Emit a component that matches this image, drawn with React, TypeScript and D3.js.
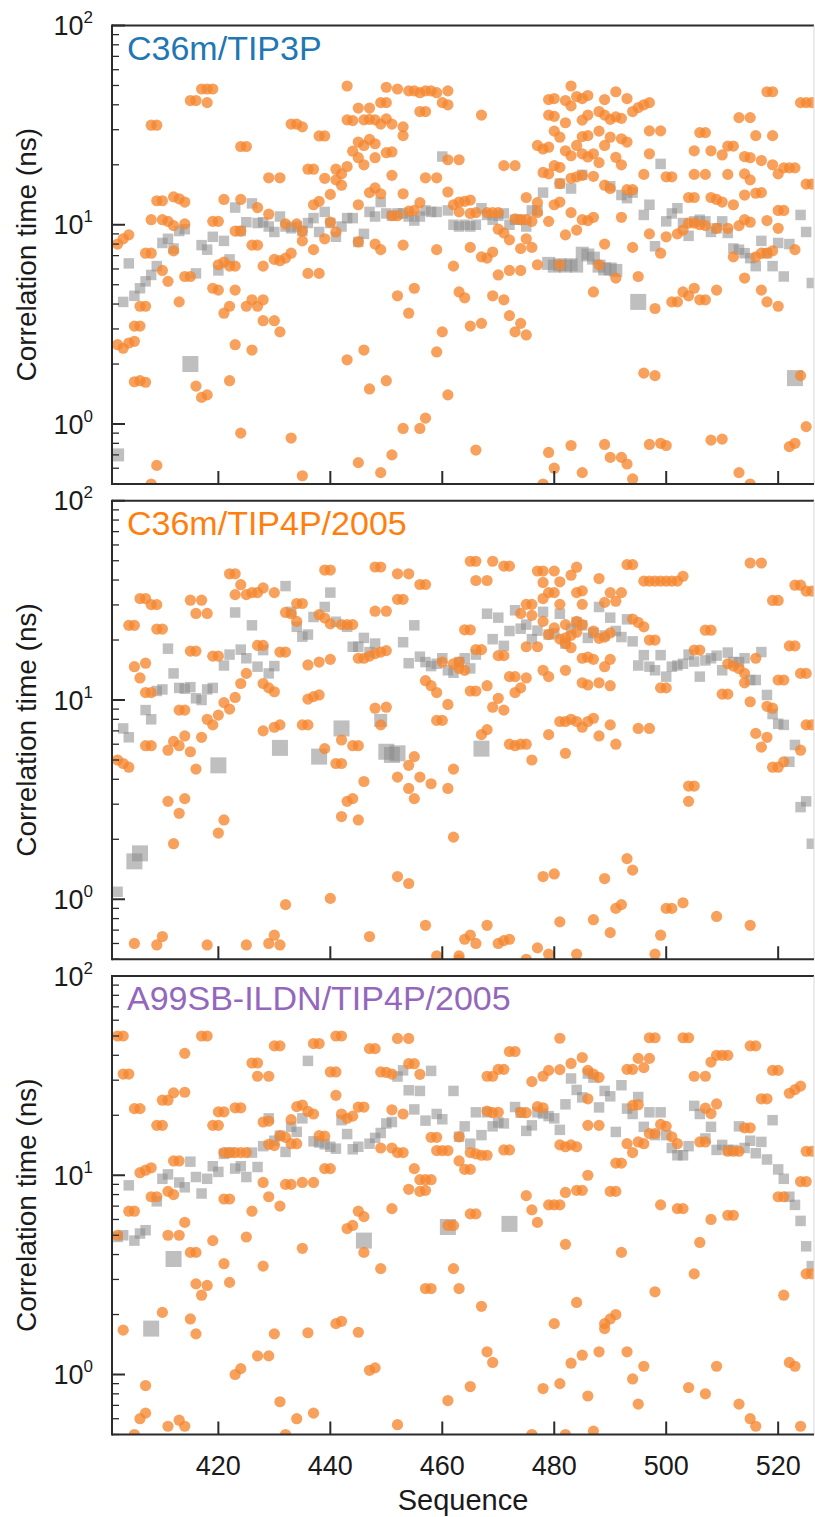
import React from 'react';
import * as d3 from 'd3';

const W = 815;
const H = 1517;
const X0 = 112;
const X1 = 814;
const PANEL_TOPS = [25.5, 500.75, 976];
const PH = 458.5;

const X_DOMAIN = [401, 526.4];
const Y_DOMAIN = [0.5, 100];
const X_TICKS = [420, 440, 460, 480, 500, 520];
const PANEL_LABELS = ['C36m/TIP3P', 'C36m/TIP4P/2005', 'A99SB-ILDN/TIP4P/2005'];
const LABEL_COLORS = ['#1f77b4', '#ff7f0e', '#9467bd'];
const X_TITLE = 'Sequence';
const Y_TITLE = 'Correlation time (ns)';

// ---------- Panel 1: C36m/TIP3P ----------
const grayS1 = [[403,4.1],[404,6.4],[405,4.4],[406,4.8],[407,5.2],[408,5.6],[409,6.2],[410,8.1],[411,8.5],[412,7.6],[413,9.3],[414,9.5],[416,5.7],[417,7.9],[418,7.5],[419,8.7],[420,5.9],[421,8.3],[422,6.7],[423,12.2],[424,9.3],[425,10.3],[426,12.8],[427,10.2],[428,10.3],[429,9.8],[430,9.2],[431,11.0],[432,9.8],[433,9.6],[434,9.8],[435,9.3],[436,10.2],[437,10.8],[438,9.2],[439,11.6],[440,10.2],[441,8.7],[442,9.8],[443,10.8],[444,10.8],[445,8.2],[446,9.0],[447,11.6],[448,11.0],[449,13.0],[450,11.4],[451,11.1],[452,11.4],[453,11.4],[454,11.0],[455,10.5],[456,11.0],[457,11.8],[458,11.6],[459,11.6],[460,22],[461,11.8],[462,10.0],[463,9.8],[464,10.0],[465,9.8],[466,10.0],[467,12.1],[468,11.2],[469,10.6],[470,11.1],[471,11.4],[472,10.0],[473,10.6],[474,10.6],[475,9.8],[476,11.8],[477,11.8],[478,14.5],[481,16.1],[483,15.2],[485,17.8],[490,15.6],[492,14.1],[493,13.6],[494,14.5],[496,11.2],[497,12.6],[498,7.8],[499,20.2],[500,10.4],[501,11.4],[502,12.1],[503,10.2],[504,8.8],[505,10.4],[506,10.6],[507,10.4],[508,9.2],[509,9.6],[510,10.4],[511,9.1],[512,7.6],[513,7.5],[514,7.2],[515,6.8],[516,6.2],[517,8.3],[518,7.2],[519,6.2],[520,8.1],[521,5.5],[522,8.0],[524,11.2],[525,9.2],[526,5.1]];
const grayM1 = [[402,0.7],[479,6.4],[480,6.2],[481,6.3],[482,6.2],[483,6.3],[484,6.2],[485,7.2],[486,7.05],[487,6.8],[488,6.2],[489,6.0],[490,6.0],[491,5.9]];
const grayL1 = [[415,2.0],[495,4.1],[523,1.7]];
const orange1 = [[417,48],[418,48],[419,48],[415,42],[416,42],[418,41],[408,31.6],[409,31.6],[424,24.7],[425,24.7],[433,32],[434,32],[435,31],[438,27.9],[439,27.9],[443,49.7],[450,49],[452,48],[454,47],[455,47],[456,46],[457,47],[458,47],[459,46],[461,47],[460,41],[461,40],[449,41],[450,41],[445,38.5],[447,38.5],[456,37],[457,37],[443,33.6],[444,33.3],[446,33.6],[447,33.8],[448,33.6],[450,34],[449,32],[451,32],[453,31],[453,28],[445,26],[446,25],[447,26.8],[448,25.5],[444,23.4],[445,21.7],[446,20],[448,21.7],[450,23],[451,23.2],[461,21.2],[463,21.2],[436,19],[437,19],[429,17.2],[431,17.2],[441,19],[442,18],[443,19.6],[439,17.1],[441,16.8],[442,15.8],[451,17.7],[457,17.2],[459,17.2],[461,14.6],[440,14.2],[438,13.1],[437,12.6],[447,14.5],[448,15.3],[449,14.3],[453,14.3],[445,12.6],[409,13.2],[410,13.2],[412,13.8],[413,13.5],[414,13.0],[421,13.4],[424,13.4],[427,12.2],[429,11.3],[408,10.6],[410,10.6],[411,10.4],[412,9.9],[414,10.1],[419,10.4],[420,10.4],[424,9.3],[423,9.3],[432,10.1],[434,10.1],[435,9.3],[440,10.3],[441,9.2],[451,11.1],[452,11.1],[456,12.9],[454,11.7],[455,11.8],[462,12.6],[463,13.0],[402,8.0],[403,8.5],[404,8.9],[412,7.4],[426,7.9],[427,7.9],[435,8.3],[439,8.5],[445,8.2],[448,8.0],[449,7.5],[453,7.9],[459,7.5],[407,7.2],[408,7.2],[420,6.3],[421,6.5],[422,6.2],[423,6.2],[428,6.2],[430,6.7],[431,6.6],[432,6.8],[433,7.2],[437,7.5],[462,6.2],[410,5.9],[411,5.2],[414,5.5],[415,5.5],[436,5.7],[438,5.7],[419,4.8],[420,4.7],[423,4.7],[406,3.9],[407,3.9],[413,4.1],[421,3.6],[422,3.9],[425,3.9],[426,4.2],[427,3.9],[428,4.2],[428,3.3],[430,3.3],[431,2.9],[452,4.4],[455,4.8],[454,3.6],[463,4.6],[460,2.9],[405,3.1],[406,3.1],[402,2.5],[403,2.4],[404,2.55],[405,2.6],[423,2.5],[426,2.35],[459,2.3],[443,2.1],[446,2.35],[405,1.63],[406,1.65],[407,1.62],[422,1.65],[416,1.55],[417,1.36],[418,1.4],[447,1.5],[450,1.65],[461,1.4],[453,0.95],[456,0.95],[457,1.07],[424,0.9],[433,0.85],[409,0.62],[445,0.64],[451,0.7],[435,0.55],[449,0.57],[408,0.5],
[467,35.5],[483,49.7],[479,42.5],[480,43],[482,42],[483,39.5],[484,44],[485,43],[486,44.5],[489,42.5],[491,46.5],[493,43],[494,37],[495,38.7],[496,40],[497,41],[479,35.5],[480,35],[482,32.5],[485,33.5],[486,35.5],[488,37],[489,35.5],[490,33.8],[491,34.8],[492,34.2],[480,29.5],[481,27.5],[484,25],[485,27.7],[486,28],[488,29.5],[490,27.5],[492,27],[493,26],[477,25],[478,24],[479,24.5],[482,23.5],[483,22.2],[485,22.7],[486,21.9],[487,22.7],[488,20.5],[491,21.8],[492,20],[489,25],[497,29.6],[499,29.6],[497,22.7],[471,19.8],[473,19.8],[478,18.3],[480,19.8],[481,19.4],[479,18],[483,17.1],[484,17.4],[485,17.7],[487,17.5],[481,16.1],[489,15.8],[490,15.2],[493,15],[494,15],[496,17.9],[500,17.4],[501,17.4],[505,23.5],[508,23.5],[510,22.4],[511,24.8],[512,24.8],[506,29],[507,29],[513,34.5],[515,34.5],[516,28],[519,28],[518,46.5],[519,46.5],[524,41],[525,41],[526,41],[514,22],[515,21.7],[517,21],[519,20],[520,18],[521,19.3],[522,19.3],[523,19.3],[505,17.9],[507,17.9],[511,17.9],[514,18],[515,16.8],[525,16],[526,16],[514,14.1],[516,14.4],[517,14.5],[504,13.7],[505,13.7],[508,13.7],[509,13.4],[510,13.0],[512,12.6],[475,13.7],[477,12.9],[480,12.6],[481,13.0],[520,11.8],[521,11.8],[464,13.1],[465,13.3],[463,11.6],[465,11.4],[466,11.5],[468,11.5],[469,11.5],[470,11.5],[473,10.7],[474,10.6],[475,10.6],[476,10.4],[477,11.5],[479,10.4],[483,11.5],[485,10.6],[486,10.5],[487,10.9],[492,10.9],[470,9.5],[471,9.1],[472,8.4],[475,8.5],[474,7.6],[476,7.7],[482,8.9],[484,9.4],[497,9.0],[500,8.7],[502,9.0],[503,9.4],[504,10.2],[505,10.2],[506,10.0],[507,9.9],[509,9.6],[511,9.6],[513,9.9],[514,10.6],[515,10.3],[518,10.5],[520,9.6],[465,7.7],[467,6.9],[468,6.8],[469,7.3],[489,8.0],[494,7.7],[499,7.2],[512,6.9],[516,6.9],[517,7.2],[518,7.2],[519,7.4],[523,7.5],[470,5.6],[472,5.9],[474,5.9],[477,6.3],[481,6.3],[488,6.3],[491,5.4],[495,5.5],[514,5.4],[464,4.3],[469,4.4],[471,4.2],[487,4.6],[498,3.8],[501,4.1],[502,4.1],[503,4.6],[504,4.4],[505,4.8],[506,4.2],[507,4.2],[509,4.7],[517,4.7],[518,4.1],[520,3.9],[465,3.1],[467,3.2],[472,3.5],[474,3.2],[473,2.9],[475,2.8],[496,1.8],[498,1.75],[524,1.75],[466,0.74],[479,0.72],[483,0.78],[480,0.6],[489,0.79],[490,0.68],[492,0.68],[493,0.63],[497,0.79],[499,0.8],[500,0.78],[508,0.83],[510,0.84],[522,0.77],[523,0.8],[525,0.97],[485,0.57],[494,0.53],[478,0.5],[513,0.57],[515,0.5]];

// ---------- Panel 2: C36m/TIP4P/2005 ----------
const grayS2 = [[402,1.09],[403,7.2],[404,6.5],[407,8.9],[408,8.0],[409,11.1],[410,11.3],[411,18.1],[412,13.6],[413,11.5],[414,11.4],[415,11.6],[416,10.2],[417,10.0],[418,11.3],[419,11.5],[421,14.9],[422,16.9],[423,27.5],[424,17.9],[425,16.2],[426,23.7],[427,14.7],[428,17.8],[429,13.6],[430,14.8],[432,37.3],[433,27.7],[434,23.3],[435,20.8],[436,21.3],[437,26.1],[439,29.3],[440,34.6],[441,24.7],[443,23.3],[444,18.5],[445,18.5],[446,20.5],[447,17.4],[448,19.2],[453,19.5],[454,15.3],[455,23.7],[456,16.5],[457,15.5],[458,14.8],[459,15.2],[460,16.2],[461,14.1],[462,13.7],[463,15.5],[464,16.2],[465,14.4],[466,16.9],[468,27.1],[469,20.2],[470,25.9],[471,18.7],[472,22.2],[473,28.2],[474,22.8],[475,23.9],[476,20.2],[477,22.3],[478,27.7],[479,21.3],[480,21.6],[481,27.1],[482,19.2],[483,22.8],[484,24.6],[485,23.7],[486,20.5],[487,21.7],[488,29.3],[489,21.1],[490,25.9],[491,22.2],[492,20.7],[493,25.4],[494,19.7],[495,14.9],[496,16.8],[497,14.7],[498,14.1],[499,16.8],[500,13.1],[501,14.7],[502,14.9],[503,15.2],[504,16.9],[505,15.6],[506,13.1],[507,15.8],[508,16.2],[509,16.7],[510,14.1],[511,17.3],[512,15.5],[513,15.5],[514,16.2],[515,12.6],[516,12.6],[517,17.4],[518,10.6],[519,8.5],[520,7.6],[521,7.5],[522,4.9],[523,5.95],[524,2.9],[525,3.1],[526,1.9]];
const grayM2 = [[449,7.9]];
const grayL2 = [[405,1.55],[406,1.7],[420,4.7],[431,5.75],[438,5.2],[442,7.2],[450,5.5],[451,5.3],[452,5.4],[467,5.7]];
const orange2 = [[402,5.0],[403,4.8],[404,4.6],[404,23.7],[405,23.7],[406,32.3],[407,32.3],[408,30.1],[409,30.1],[409,22.7],[410,22.7],[405,14.7],[407,15.3],[406,12.9],[407,10.9],[408,10.9],[407,5.9],[408,5.9],[411,5.6],[412,6.2],[413,5.9],[414,6.6],[415,5.5],[416,4.5],[413,8.9],[414,8.9],[415,17.6],[416,17.6],[415,31.7],[417,31.7],[416,27.2],[418,27.2],[417,6.5],[418,8.0],[419,7.5],[420,8.4],[421,9.7],[422,9.0],[423,10.3],[424,12.1],[425,13.6],[419,16.6],[420,16.6],[422,43],[423,43],[424,37.9],[423,33.8],[425,33.8],[426,34.6],[427,34.6],[428,36.5],[430,34.6],[427,18.8],[428,18.8],[428,12.1],[429,11.5],[430,11.0],[431,17.4],[432,17.4],[428,7.0],[430,7.3],[431,7.5],[432,27.5],[433,27.1],[434,24.8],[434,30.5],[435,30.5],[439,44.9],[440,44.9],[438,26.8],[439,25.8],[440,24.1],[442,23.9],[443,23.9],[444,23.9],[436,15],[438,15.5],[440,16],[436,10.1],[437,10.4],[438,10.6],[435,7.5],[436,7.5],[439,5.7],[441,4.8],[442,4.8],[442,6.3],[444,5.9],[445,5.9],[448,46.5],[449,46.5],[452,43],[454,43],[452,32],[453,32],[448,27.9],[450,27.9],[456,38],[457,38],[445,16.2],[446,16.2],[447,16.6],[448,17.1],[449,17.4],[450,17.7],[448,9.1],[450,9.2],[449,7.5],[446,3.9],[443,3.1],[444,3.2],[442,2.6],[445,2.5],[452,4.1],[454,4.7],[455,5.2],[454,3.6],[455,3.2],[456,4.1],[458,3.8],[457,12.5],[458,11.8],[459,10.9],[461,9.5],[459,7.9],[460,7.9],[460,15.5],[462,15.2],[463,15.5],[462,4.5],[461,3.6],[462,2.05],[411,3.1],[414,3.2],[413,2.7],[412,1.9],[420,2.15],[421,2.5],[452,1.3],[454,1.2],[432,0.94],[440,1.01],[457,0.74],[405,0.6],[410,0.65],[409,0.59],[418,0.59],[429,0.6],[430,0.66],[431,0.59],[425,0.59],[447,0.65],[463,0.52],[459,0.52],
[465,49.7],[466,49.7],[469,49.7],[471,47],[472,47],[466,39.8],[468,39.8],[477,44.4],[478,44.4],[480,44.4],[483,42.3],[484,46.4],[478,38.9],[481,39.2],[488,40.7],[493,47.8],[494,47.8],[496,39.5],[497,39.5],[498,39.5],[499,39.5],[500,39.5],[501,39.5],[502,39.5],[503,41.8],[515,48.7],[517,48.7],[479,34.6],[480,34.6],[484,34.6],[485,35.3],[490,34.6],[492,34.6],[491,31.3],[475,30.2],[476,30.2],[478,32.3],[481,30.2],[485,30.2],[489,30.9],[474,27.2],[476,26.6],[478,24.8],[480,23.0],[482,23.9],[484,24.8],[485,23.9],[494,25.5],[495,24.5],[496,23.3],[464,22.5],[465,22.5],[479,21.3],[481,20.2],[482,20.5],[483,21.1],[484,21.9],[487,22.2],[488,20.4],[489,20.7],[490,21.7],[497,20],[498,20],[507,22.4],[508,22.4],[522,18.7],[523,18.7],[519,31.6],[520,31.6],[523,37.7],[524,37.7],[525,35.2],[526,35.2],[466,17.9],[467,17.9],[470,16.7],[471,16.7],[475,18.5],[477,18.5],[482,19.2],[483,18.3],[485,16.2],[486,16.4],[487,16.0],[490,16],[489,14.7],[505,17.8],[506,17.8],[511,15.2],[512,14.8],[513,14.4],[514,13.6],[516,16.2],[463,14.4],[464,14.1],[472,13.1],[473,13.1],[475,12.9],[478,14.1],[479,13.1],[482,14.1],[485,12.2],[486,11.9],[488,12.2],[490,11.8],[520,12.6],[521,12.6],[524,13.6],[525,13.6],[465,11.1],[466,11.1],[468,11.8],[473,10.9],[474,11.5],[470,10.2],[469,9.2],[471,8.9],[499,11.5],[500,11.5],[510,10.7],[511,10.7],[514,12.2],[515,9.8],[518,9.3],[519,9.1],[467,6.7],[468,7.1],[472,6.0],[473,5.9],[474,6.0],[475,6.0],[476,5.0],[479,6.7],[482,5.4],[481,7.8],[482,7.8],[483,8.0],[484,7.8],[485,7.3],[486,7.8],[487,8.1],[488,6.6],[490,7.5],[491,6.0],[495,7.2],[497,7.2],[516,6.8],[518,6.5],[517,5.8],[519,4.6],[520,4.6],[521,4.9],[524,5.6],[525,7.5],[526,7.5],[504,3.7],[505,3.7],[504,3.1],[493,1.6],[494,1.4],[478,1.3],[480,1.34],[489,1.27],[503,0.96],[492,0.94],[491,0.9],[500,0.9],[501,0.9],[509,0.82],[515,0.74],[487,0.79],[481,0.77],[468,0.74],[490,0.68],[499,0.66],[465,0.66],[464,0.63],[466,0.6],[470,0.6],[471,0.62],[472,0.63],[477,0.57],[475,0.5],[479,0.53],[484,0.53],[498,0.53],[463,0.5]];

// ---------- Panel 3: A99SB-ILDN/TIP4P/2005 ----------
const grayS3 = [[402,4.9],[403,5.0],[404,8.9],[405,4.7],[406,5.1],[407,5.3],[409,7.4],[410,9.6],[411,10.1],[413,9.2],[414,8.7],[415,11.7],[416,9.8],[417,8.1],[418,9.6],[419,11.1],[420,10.4],[421,12.8],[422,13.0],[423,10.8],[424,11.1],[425,9.8],[426,13.0],[427,11.0],[428,14.0],[429,19.3],[430,14.9],[431,15.8],[432,13.1],[433,17.5],[434,16.5],[435,19.3],[436,37.5],[437,14.8],[438,14.6],[439,14.3],[440,13.9],[441,13.6],[442,18.9],[443,16.1],[444,13.5],[445,13.9],[447,14.4],[448,15.4],[449,16.3],[450,18.2],[451,18.5],[452,31.3],[453,33.6],[454,26.7],[455,21.4],[456,26.5],[457,18.8],[458,33.4],[459,20.3],[460,19.1],[462,26.5],[463,15.6],[464,17.6],[465,14.4],[466,20.7],[467,15.9],[468,20.7],[469,17.6],[470,18.4],[471,18.2],[473,22.0],[474,20.6],[475,16.7],[476,17.8],[477,20.7],[478,20.4],[479,19.8],[480,19.3],[481,16.9],[482,22.7],[483,30.6],[484,26.8],[485,24.6],[486,32.4],[487,30.9],[488,21.9],[489,26.5],[490,24.9],[491,16.5],[492,28.3],[493,21.6],[494,20.3],[495,24.7],[496,17.5],[497,20.7],[498,15.9],[499,20.7],[500,15.9],[501,13.7],[502,12.6],[503,12.6],[504,14.0],[505,22.3],[506,20.3],[507,15.3],[508,17.5],[509,13.4],[510,14.2],[511,13.4],[512,13.4],[513,17.6],[514,13.7],[515,14.9],[516,12.9],[517,14.7],[518,12.0],[519,18.9],[520,10.7],[521,9.6],[522,7.8],[523,7.1],[524,5.9],[525,4.4],[526,3.5]];
const grayM3 = [];
const grayL3 = [[408,1.7],[412,3.8],[446,4.7],[461,5.5],[472,5.7]];
const orange3 = [[402,50],[403,50],[403,32.2],[404,32.2],[414,40.9],[417,50],[418,50],[405,21.6],[406,21.6],[410,23.8],[411,23.8],[412,25.9],[414,26.1],[409,17.8],[410,17.8],[420,20.8],[421,20.8],[423,21.8],[424,21.8],[419,17.8],[420,17.8],[426,36.6],[427,36.6],[427,31.4],[429,31.4],[430,44.6],[431,44.6],[437,45.8],[438,45.8],[441,50],[442,50],[440,33],[441,33],[447,43.2],[448,43.2],[452,48.6],[454,48.6],[454,36.3],[455,36.3],[449,33],[450,32.8],[451,32.2],[456,32.1],[441,25.2],[434,22.1],[435,22.5],[436,20.9],[437,20.3],[428,18.5],[429,18.7],[433,19.0],[442,20.3],[443,19.3],[444,19.8],[445,22.0],[446,22.0],[451,21.3],[453,20.3],[431,15.8],[432,15.5],[433,14.4],[434,14.4],[429,14.3],[430,14.1],[438,15.8],[439,15.7],[421,13.0],[422,13.0],[423,13.0],[424,13.0],[425,13.0],[412,11.8],[413,11.8],[406,10.3],[407,10.6],[408,10.9],[449,13.7],[451,13.7],[452,13.0],[453,13.0],[458,15.5],[459,15.5],[459,13.3],[460,13.3],[461,13.3],[463,11.8],[439,10.8],[440,10.8],[455,10.8],[432,9.0],[433,9.0],[435,9.2],[437,9.2],[428,9.2],[456,9.5],[457,9.5],[458,9.5],[408,7.8],[409,7.8],[411,8.3],[412,8.0],[421,7.6],[422,7.6],[429,7.8],[454,8.5],[456,8.3],[457,8.4],[404,6.6],[405,6.6],[426,6.6],[431,7.0],[451,6.8],[445,6.6],[446,6.2],[443,5.4],[444,5.6],[414,5.8],[402,5.0],[411,5.0],[413,5.0],[419,4.7],[425,4.9],[461,5.6],[462,5.6],[415,4.1],[416,4.1],[435,4.3],[446,4.1],[421,3.6],[428,3.5],[449,3.4],[462,3.4],[422,2.9],[416,2.85],[418,2.8],[417,2.5],[457,2.7],[458,2.7],[463,2.7],[410,2.05],[403,1.67],[415,1.9],[416,1.6],[430,1.6],[436,1.62],[441,1.8],[442,1.85],[445,1.63],[427,1.24],[429,1.24],[423,1.0],[424,1.07],[447,1.05],[448,1.08],[407,0.88],[461,0.74],[431,0.73],[407,0.64],[406,0.6],[437,0.64],[434,0.6],[413,0.59],[414,0.55],[411,0.55],[405,0.5],[452,0.56],[432,0.5],
[481,48.7],[497,49],[498,49],[503,49],[504,49],[472,41.8],[473,41.8],[515,44.6],[516,44.6],[485,39],[495,38.6],[497,38.6],[483,36.4],[496,34.7],[470,34],[471,34],[479,33.6],[481,33.9],[493,34],[494,34],[509,40],[510,40],[511,40],[508,37],[519,33.6],[520,33.6],[468,31.4],[469,31.4],[478,31.4],[476,29.5],[486,33.6],[487,32.2],[488,31],[505,31.4],[507,31.4],[522,25.8],[523,26.9],[524,28],[517,24.2],[518,24.2],[486,24.2],[468,21],[469,20.6],[470,20.7],[474,20.7],[475,20.6],[477,22.1],[478,21.8],[494,22.4],[495,22.6],[507,21.7],[508,20.4],[509,22.8],[486,17.8],[488,17.8],[499,18],[500,17.6],[514,17.3],[515,17.3],[463,15.6],[497,16.2],[498,16.2],[501,15.6],[502,14.4],[495,14.7],[496,14.4],[493,14.4],[494,13.0],[481,14.2],[482,13.9],[483,14.2],[484,13.9],[471,13.4],[472,13.4],[506,14.7],[507,14.7],[511,13.2],[512,13.2],[513,13.2],[465,13],[466,12.8],[467,12.6],[468,12.6],[525,13.2],[526,13.2],[464,10.7],[465,10.7],[491,11.5],[492,11.5],[486,10.0],[524,9.3],[525,9.3],[482,8.2],[484,8.4],[485,8.4],[490,8.3],[491,8.3],[475,7.9],[476,6.7],[477,5.8],[479,7.1],[480,7.1],[481,7.1],[499,7.1],[502,6.8],[503,6.8],[520,7.8],[521,7.8],[465,6.4],[466,6.4],[508,6.0],[511,6.3],[512,6.3],[482,4.5],[492,4.1],[506,4.6],[505,3.2],[525,3.2],[526,3.2],[498,2.6],[521,2.5],[467,2.2],[480,1.8],[484,2.3],[489,1.8],[489,1.7],[490,1.9],[491,2.0],[468,1.3],[469,1.15],[483,1.14],[485,1.25],[488,1.3],[493,1.3],[496,1.1],[494,0.95],[522,1.15],[523,1.1],[509,1.1],[465,0.87],[478,0.85],[481,0.9],[486,0.78],[495,0.71],[504,0.86],[507,0.8],[513,0.71],[515,0.6],[516,0.55],[524,0.55],[476,0.5],[482,0.5],[487,0.52]];

const PANELS = [
  { grayS: grayS1, grayM: grayM1, grayL: grayL1, orange: orange1 },
  { grayS: grayS2, grayM: grayM2, grayL: grayL2, orange: orange2 },
  { grayS: grayS3, grayM: grayM3, grayL: grayL3, orange: orange3 },
];

const FONT = '"Liberation Sans", Arial, Helvetica, sans-serif';
const AXIS = '#2b2b2b';
const TEXT = '#1a1a1a';

function Panel({ i, top }: { i: number; top: number }) {
  const p = PANELS[i];
  const x = d3.scaleLinear().domain(X_DOMAIN).range([X0, X1]);
  const y = d3.scaleLog().domain(Y_DOMAIN).range([top + PH, top]);
  const yt = y.ticks();
  const bottom = top + PH;
  const clipId = `clip-${i}`;
  const isMajor = (t: number) => Math.abs(Math.log10(t) - Math.round(Math.log10(t))) < 1e-9;
  const squares = (arr: number[][], s: number, key: string) =>
    arr.map((d, j) => (
      <rect key={key + j} x={x(d[0]) - s / 2} y={y(d[1]) - s / 2} width={s} height={s}
        fill="#8a8a8a" fillOpacity={0.55} />
    ));
  return (
    <g>
      <defs>
        <clipPath id={clipId}>
          <rect x={X0} y={top} width={X1 - X0} height={PH} />
        </clipPath>
      </defs>
      <g clipPath={`url(#${clipId})`}>
        {squares(p.grayS, 10.5, 's')}
        {squares(p.grayM, 13, 'm')}
        {squares(p.grayL, 16, 'l')}
        {p.orange.map((d, j) => (
          <circle key={'o' + j} cx={x(d[0])} cy={y(d[1])} r={5.6} fill="#f5862f" fillOpacity={0.78} />
        ))}
      </g>
      <line x1={X0} x2={X1} y1={top} y2={top} stroke={AXIS} strokeWidth={2} />
      <line x1={X1} x2={X1} y1={top} y2={bottom} stroke="#d6d6d6" strokeWidth={1} />
      <line x1={X0} x2={X1} y1={bottom} y2={bottom} stroke={AXIS} strokeWidth={2} />
      <line x1={X0} x2={X0} y1={top - 1} y2={bottom + 1} stroke={AXIS} strokeWidth={2} />
      {yt.map((t, j) => (
        <line key={'yt' + j} x1={X0} x2={X0 + (isMajor(t) ? 13 : 7)} y1={y(t)} y2={y(t)}
          stroke={AXIS} strokeWidth={isMajor(t) ? 2 : 1.3} />
      ))}
      {yt.filter(isMajor).map((t, j) => (
        <text key={'yl' + j} x={93} y={y(t) + 9.5} textAnchor="end" fontFamily={FONT} fontSize={27} fill={TEXT}>
          <tspan>10</tspan>
          <tspan dy={-12} fontSize={17}>{Math.round(Math.log10(t))}</tspan>
        </text>
      ))}
      {X_TICKS.map((t) => (
        <line key={'xt' + t} x1={x(t)} x2={x(t)} y1={bottom} y2={bottom - 13} stroke={AXIS} strokeWidth={2} />
      ))}
      <text x={127} y={top + 34} fontFamily={FONT} fontSize={34} fill={LABEL_COLORS[i]}>{PANEL_LABELS[i]}</text>
      <text transform={`translate(36,${top + PH / 2}) rotate(-90)`} textAnchor="middle" fontFamily={FONT}
        fontSize={28} fill={TEXT}>{Y_TITLE}</text>
    </g>
  );
}

export default function App() {
  const x = d3.scaleLinear().domain(X_DOMAIN).range([X0, X1]);
  const lastBottom = PANEL_TOPS[2] + PH;
  return (
    <svg width={W} height={H} style={{ position: 'absolute', left: 0, top: 0, background: '#fff' }}>
      <rect x={0} y={0} width={W} height={H} fill="#fff" />
      {PANEL_TOPS.map((t, i) => <Panel key={i} i={i} top={t} />)}
      {X_TICKS.map((t) => (
        <text key={'xl' + t} x={x(t)} y={lastBottom + 40} textAnchor="middle" fontFamily={FONT} fontSize={27} fill={TEXT}>{t}</text>
      ))}
      <text x={(X0 + X1) / 2} y={lastBottom + 75} textAnchor="middle" fontFamily={FONT} fontSize={29} fill={TEXT}>{X_TITLE}</text>
    </svg>
  );
}
